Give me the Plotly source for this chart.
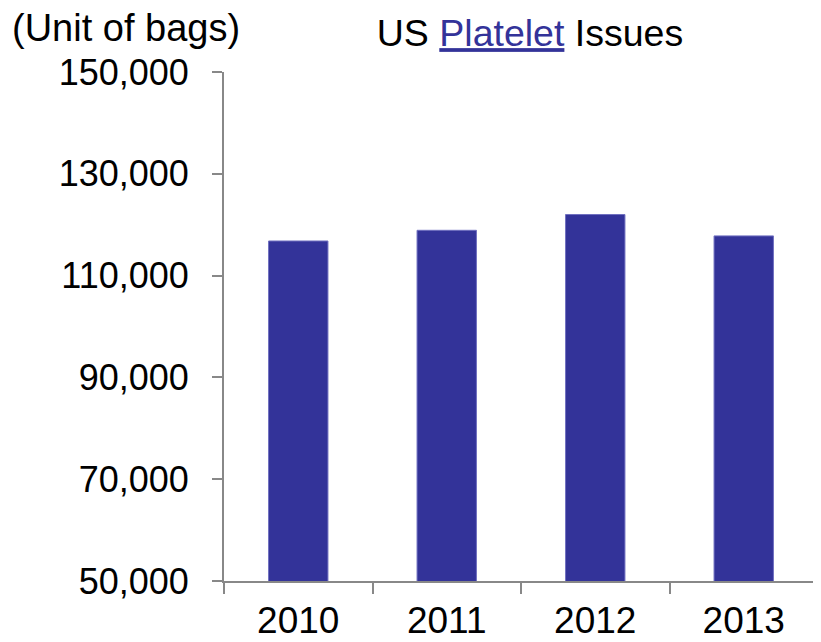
import plotly.graph_objects as go

years = ["2010", "2011", "2012", "2013"]
issues = [116800, 118900, 122000, 117800]
y_ticks = [50000, 70000, 90000, 110000, 130000, 150000]
title_text = "US <span style='color:#333399'><u>Platelet</u></span> Issues"
unit_text = "(Unit of bags)"

FONT = "Liberation Sans, Arial, sans-serif"
AXIS = "#888888"

fig = go.Figure(
    go.Bar(
        x=years,
        y=issues,
        marker=dict(color="#333399", line=dict(color="#7070c0", width=1)),
        width=0.4,
    )
)

fig.update_layout(
    width=821,
    height=642,
    paper_bgcolor="white",
    plot_bgcolor="white",
    margin=dict(l=216, r=11, t=64, b=69, autoexpand=False),
    font=dict(family=FONT, size=36, color="black"),
    showlegend=False,
    title=dict(
        text=title_text,
        x=522 / 821,
        xanchor="center",
        y=1 - 25 / 642,
        yanchor="middle",
        font=dict(family=FONT, size=37.5, color="black"),
    ),
    annotations=[
        dict(
            text=unit_text,
            xref="paper",
            yref="paper",
            x=-0.165,
            y=1.0865,
            xanchor="center",
            yanchor="middle",
            showarrow=False,
            font=dict(family=FONT, size=38, color="black"),
        )
    ],
    bargap=0.6,
)

fig.update_xaxes(
    type="category",
    automargin=False,
    showline=True,
    linecolor=AXIS,
    linewidth=2,
    ticks="outside",
    tickson="boundaries",
    ticklen=11,
    tickwidth=2,
    tickcolor=AXIS,
    showgrid=False,
    zeroline=False,
    ticklabelstandoff=6,
    tickfont=dict(family=FONT, size=37, color="black"),
)

fig.update_yaxes(
    range=[50000, 150000],
    automargin=False,
    tickvals=y_ticks,
    tickformat=",d",
    showline=True,
    linecolor=AXIS,
    linewidth=2,
    ticks="outside",
    ticklen=10,
    tickwidth=2,
    tickcolor=AXIS,
    showgrid=False,
    zeroline=False,
    ticklabelstandoff=16,
    tickfont=dict(family=FONT, size=36, color="black"),
)

fig.write_html("out.html")
